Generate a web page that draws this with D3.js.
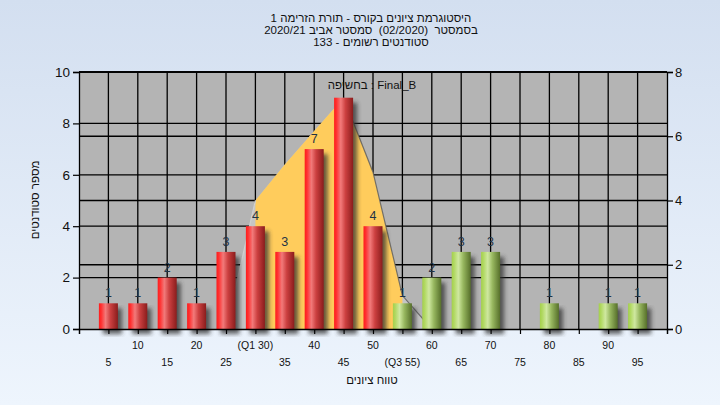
<!DOCTYPE html>
<html><head><meta charset="utf-8">
<script src="https://cdn.jsdelivr.net/npm/d3@7"></script>
<style>html,body{margin:0;padding:0;overflow:hidden;background:#e4ecf7}
text{font-family:"Liberation Sans",Arial,sans-serif}</style>
</head><body><svg id="c" width="720" height="405"></svg>
<script>
// ---- data ----
const titleLines = ["היסטוגרמת ציונים בקורס - תורת הזרימה 1", "בסמסטר  (02/2020)  סמסטר אביב 2020/21", "סטודנטים רשומים - 133"];
const bins = [5,10,15,20,25,30,35,40,45,50,55,60,65,70,75,80,85,90,95];
const counts = [1,1,2,1,3,4,3,7,9,4,1,2,3,3,0,1,0,1,1];
const tickLabels = ["5","10","15","20","25","(Q1 30)","35","40","45","50","(Q3 55)","60","65","70","75","80","85","90","95"];
const q1 = 30, q3 = 55, passMark = 55;
const curveX = [25,30,35,40,45,50,55,60];
const curveY = [0,5,6.4,7.7,9,6.1,1.3,0];
const leftTicks = [0,2,4,6,8,10];
const rightTicks = [0,2,4,6,8];
const xTitle = "טווח ציונים";
const yTitle = "מספר סטודנטים";
const legendText = "בחשיפה : Final_B";

// ---- chart ----
const svg = d3.select("#c");
const L = 79, R = 667, T = 72, B = 329;
const x = d3.scaleLinear().domain([0,100]).range([L,R]);
const yL = d3.scaleLinear().domain([0,10]).range([B,T]);
const yR = d3.scaleLinear().domain([0,8]).range([B,T]);

const defs = svg.append("defs");
const bg = defs.append("linearGradient").attr("id","bg").attr("x1",0).attr("y1",0).attr("x2",0).attr("y2",1);
bg.append("stop").attr("offset","0%").attr("stop-color","#d3dff0");
bg.append("stop").attr("offset","100%").attr("stop-color","#eef5fd");
function barGrad(id, stops){
  const g = defs.append("linearGradient").attr("id",id).attr("x1",0).attr("y1",0).attr("x2",1).attr("y2",0);
  stops.forEach(s=>g.append("stop").attr("offset",s[0]).attr("stop-color",s[1]));
}
barGrad("red",[["0%","#ff1c1c"],["12%","#ff3030"],["35%","#f27a7a"],["60%","#cc4040"],["100%","#8a1c1c"]]);
barGrad("green",[["0%","#a4d04c"],["12%","#b0d860"],["35%","#cfe8a0"],["60%","#98b860"],["100%","#566f2a"]]);
defs.append("filter").attr("id","blur").attr("x","-50%").attr("y","-10%").attr("width","200%").attr("height","120%")
  .append("feGaussianBlur").attr("stdDeviation",2);
defs.append("clipPath").attr("id","iqr").append("rect")
  .attr("x",x(q1)).attr("y",T).attr("width",x(q3)-x(q1)).attr("height",B-T);
defs.append("clipPath").attr("id","plot").append("rect")
  .attr("x",L).attr("y",T).attr("width",R-L).attr("height",B-T+8);

svg.append("rect").attr("width",720).attr("height",405).attr("fill","url(#bg)");
svg.append("rect").attr("x",L).attr("y",T).attr("width",R-L).attr("height",B-T).attr("fill","#b4b4b4");

// gridlines
const grid = svg.append("g").attr("stroke","#000").attr("stroke-width",1.3);
grid.selectAll("line.v").data(bins).join("line").attr("class","v")
  .attr("x1",d=>x(d)).attr("x2",d=>x(d)).attr("y1",T).attr("y2",B);
grid.selectAll("line.hl").data(leftTicks.slice(1)).join("line").attr("class","hl")
  .attr("x1",L).attr("x2",R).attr("y1",d=>yL(d)).attr("y2",d=>yL(d));
grid.selectAll("line.hr").data(rightTicks.slice(1)).join("line").attr("class","hr")
  .attr("x1",L).attr("x2",R).attr("y1",d=>yR(d)).attr("y2",d=>yR(d));

// curve area
const pts = curveX.map((v,i)=>[v,curveY[i]]);
const area = d3.area().x(d=>x(d[0])).y0(B).y1(d=>yL(d[1]));
const line = d3.line().x(d=>x(d[0])).y(d=>yL(d[1]));
svg.append("path").datum(pts).attr("d",area).attr("fill","#c6c6c6");
svg.append("path").datum(pts).attr("d",area).attr("fill","#ffcc5c").attr("clip-path","url(#iqr)");
svg.append("path").datum(pts.filter(d=>d[0]>=45)).attr("d",line).attr("fill","none")
  .attr("stroke","#5a5a5a").attr("stroke-width",1.2).attr("opacity",0.8);
svg.append("path").datum(pts.filter(d=>d[0]<=30)).attr("d",line).attr("fill","none")
  .attr("stroke","#d0d0d0").attr("stroke-width",1.2);

// bars
const bw = 19;
const data = bins.map((b,i)=>({b, c:counts[i], lab:tickLabels[i]})).filter(d=>d.c>0);
const sh = svg.append("g").attr("clip-path","url(#plot)");
sh.selectAll("rect").data(data).join("rect")
  .attr("x",d=>x(d.b)-bw/2+4).attr("y",d=>yL(d.c)+5).attr("width",bw).attr("height",d=>B-yL(d.c))
  .attr("fill","#303030").attr("opacity",0.75).attr("filter","url(#blur)");
svg.append("g").selectAll("rect").data(data).join("rect")
  .attr("x",d=>x(d.b)-bw/2).attr("y",d=>yL(d.c)).attr("width",bw).attr("height",d=>B-yL(d.c))
  .attr("fill",d=>d.b>=passMark?"url(#green)":"url(#red)");

// legend-like label (drawn over the plot; value labels that fall under it stay hidden as in the original)
const legBox = {x0:328, x1:416, y0:78, y1:92};
svg.append("text").attr("x",372).attr("y",89).attr("text-anchor","middle").attr("font-size",11.5)
  .attr("fill","#111").text(legendText);
svg.append("g").selectAll("text")
  .data(data.filter(d=>{const tx=x(d.b), ty=yL(d.c)-6; return !(tx>legBox.x0&&tx<legBox.x1&&ty>legBox.y0&&ty<legBox.y1+10);}))
  .join("text")
  .attr("x",d=>x(d.b)).attr("y",d=>yL(d.c)-6).attr("text-anchor","middle")
  .attr("font-size",12.5).attr("fill","#1f3346").text(d=>d.c);

// axes
const axL = svg.append("g").attr("transform",`translate(${L},0)`)
  .call(d3.axisLeft(yL).tickValues(leftTicks).tickSize(6).tickPadding(3).tickFormat(d3.format("d")));
const axR = svg.append("g").attr("transform",`translate(${R},0)`)
  .call(d3.axisRight(yR).tickValues(rightTicks).tickSize(6).tickPadding(2).tickFormat(d3.format("d")));
const axB = svg.append("g").attr("transform",`translate(0,${B})`)
  .call(d3.axisBottom(x).tickValues(d3.range(0,101,5)).tickSize(5).tickFormat(""));
[axL,axR,axB].forEach(a=>{a.select(".domain").attr("stroke","#000").attr("stroke-width",1.3);
  a.selectAll(".tick line").attr("stroke","#000").attr("stroke-width",1.2);
  a.selectAll("text").attr("fill","#111").style("font-family","Liberation Sans, Arial, sans-serif");});
axL.selectAll("text").attr("font-size",13.5);
axR.selectAll("text").attr("font-size",13);
svg.append("line").attr("x1",L).attr("x2",R).attr("y1",T).attr("y2",T).attr("stroke","#000").attr("stroke-width",1.3);

svg.append("g").selectAll("text").data(bins.map((b,i)=>({b,lab:tickLabels[i]}))).join("text")
  .attr("x",d=>x(d.b)).attr("y",d=>d.b%10===0?349:366).attr("text-anchor","middle")
  .attr("font-size",10.5).attr("fill","#111").text(d=>d.lab);

// titles
svg.append("g").selectAll("text").data(titleLines).join("text")
  .attr("x",371).attr("y",(d,i)=>22+i*11.8).attr("text-anchor","middle").attr("direction","rtl")
  .attr("font-size",11.5).attr("fill","#111").style("white-space","pre").text(d=>d);
svg.append("text").attr("x",372).attr("y",384).attr("text-anchor","middle").attr("direction","rtl")
  .attr("font-size",11.5).attr("fill","#111").text(xTitle);
svg.append("text").attr("transform","translate(39,200) rotate(-90)").attr("text-anchor","middle")
  .attr("direction","rtl").attr("font-size",11.5).attr("fill","#111").text(yTitle);
</script></body></html>
